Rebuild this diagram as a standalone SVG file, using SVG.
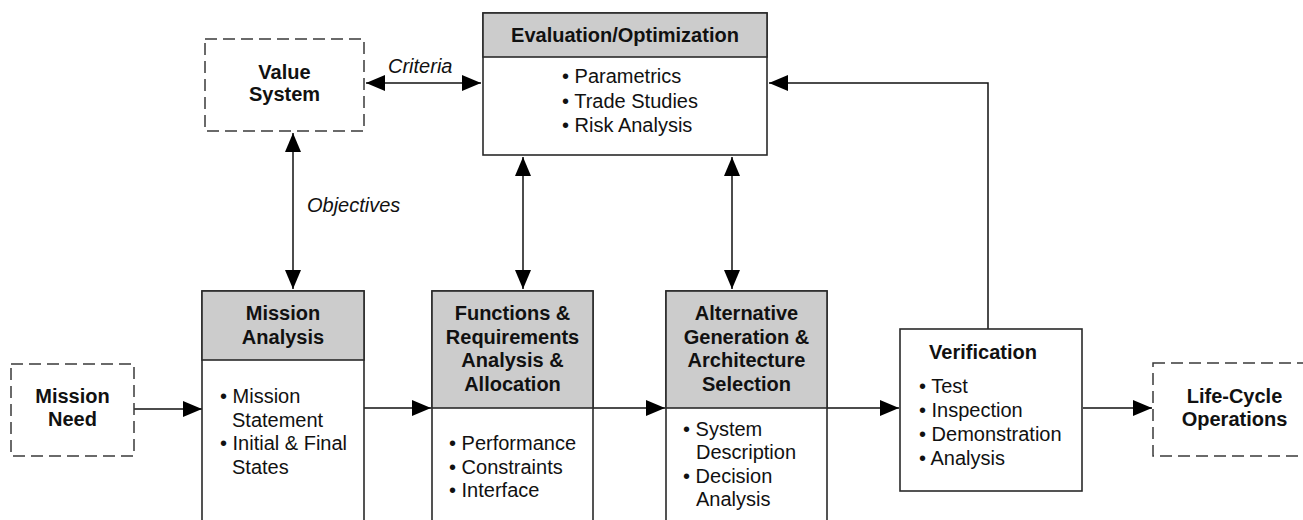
<svg xmlns="http://www.w3.org/2000/svg" width="1303" height="520" viewBox="0 0 1303 520">
  <style>
    text { font-family: "Liberation Sans", Arial, Helvetica, sans-serif; font-size: 20px; fill: #111; }
    .b { font-weight: bold; }
    .i { font-style: italic; }
    .c { text-anchor: middle; }
    .box { fill: #fff; stroke: #2a2a2a; stroke-width: 1.6; }
    .head { fill: #cccccc; stroke: #2a2a2a; stroke-width: 1.6; }
    .dash { fill: #fff; stroke: #3a3a3a; stroke-width: 1.5; stroke-dasharray: 12 6; }
    .conn { fill: none; stroke: #111; stroke-width: 1.5; }
  </style>
  <defs>
    <marker id="arrow" markerUnits="userSpaceOnUse" markerWidth="19" markerHeight="16" refX="19" refY="8" orient="auto-start-reverse">
      <path d="M0,0 L19,8 L0,16 z" fill="#000"/>
    </marker>
  </defs>
  <rect width="1303" height="520" fill="#fff"/>

  <!-- connectors -->
  <g id="connectors">
    <line class="conn" x1="366" y1="83" x2="481" y2="83" marker-start="url(#arrow)" marker-end="url(#arrow)"/>
    <line class="conn" x1="293" y1="133" x2="293" y2="289" marker-start="url(#arrow)" marker-end="url(#arrow)"/>
    <line class="conn" x1="523" y1="157" x2="523" y2="289" marker-start="url(#arrow)" marker-end="url(#arrow)"/>
    <line class="conn" x1="732" y1="157" x2="732" y2="289" marker-start="url(#arrow)" marker-end="url(#arrow)"/>
    <line class="conn" x1="134" y1="409" x2="202" y2="409" marker-end="url(#arrow)"/>
    <line class="conn" x1="364" y1="408" x2="431" y2="408" marker-end="url(#arrow)"/>
    <line class="conn" x1="593" y1="408" x2="665" y2="408" marker-end="url(#arrow)"/>
    <line class="conn" x1="827" y1="408" x2="899" y2="408" marker-end="url(#arrow)"/>
    <line class="conn" x1="1083" y1="408" x2="1152" y2="408" marker-end="url(#arrow)"/>
    <polyline class="conn" points="988,329 988,83 769,83" marker-end="url(#arrow)"/>
    <text class="i" x="388" y="73">Criteria</text>
    <text class="i" x="307" y="212">Objectives</text>
  </g>

  <!-- Value System -->
  <g id="value-system">
    <rect class="dash" x="205" y="39" width="159" height="92"/>
    <text class="b c" x="284.5" y="79">Value</text>
    <text class="b c" x="284.5" y="101">System</text>
  </g>

  <!-- Evaluation/Optimization -->
  <g id="evaluation">
    <rect class="box" x="483" y="13" width="284" height="142"/>
    <rect class="head" x="483" y="13" width="284" height="44"/>
    <text class="b c" x="625" y="42">Evaluation/Optimization</text>
    <text x="562" y="83">• Parametrics</text>
    <text x="562" y="107.5">• Trade Studies</text>
    <text x="562" y="132">• Risk Analysis</text>
  </g>

  <!-- Mission Need -->
  <g id="mission-need">
    <rect class="dash" x="11" y="364" width="123" height="92"/>
    <text class="b c" x="72.5" y="403">Mission</text>
    <text class="b c" x="72.5" y="426">Need</text>
  </g>

  <!-- Mission Analysis -->
  <g id="mission-analysis">
    <rect class="box" x="202" y="291" width="162" height="240"/>
    <rect class="head" x="202" y="291" width="162" height="69"/>
    <text class="b c" x="283" y="320">Mission</text>
    <text class="b c" x="283" y="344">Analysis</text>
    <text x="220" y="403">• Mission</text>
    <text x="232" y="427">Statement</text>
    <text x="220" y="450">• Initial &amp; Final</text>
    <text x="232" y="474">States</text>
  </g>

  <!-- Functions & Requirements Analysis & Allocation -->
  <g id="functions">
    <rect class="box" x="432" y="291" width="161" height="240"/>
    <rect class="head" x="432" y="291" width="161" height="117"/>
    <text class="b c" x="512.5" y="320">Functions &amp;</text>
    <text class="b c" x="512.5" y="344">Requirements</text>
    <text class="b c" x="512.5" y="367">Analysis &amp;</text>
    <text class="b c" x="512.5" y="391">Allocation</text>
    <text x="449" y="450">• Performance</text>
    <text x="449" y="474">• Constraints</text>
    <text x="449" y="497">• Interface</text>
  </g>

  <!-- Alternative Generation & Architecture Selection -->
  <g id="alternative">
    <rect class="box" x="666" y="291" width="161" height="240"/>
    <rect class="head" x="666" y="291" width="161" height="117"/>
    <text class="b c" x="746.5" y="320">Alternative</text>
    <text class="b c" x="746.5" y="344">Generation &amp;</text>
    <text class="b c" x="746.5" y="367">Architecture</text>
    <text class="b c" x="746.5" y="391">Selection</text>
    <text x="683" y="436">• System</text>
    <text x="696" y="459">Description</text>
    <text x="683" y="483">• Decision</text>
    <text x="696" y="506">Analysis</text>
  </g>

  <!-- Verification -->
  <g id="verification">
    <rect class="box" x="900" y="329" width="182" height="162"/>
    <text class="b c" x="983" y="359">Verification</text>
    <text x="919" y="393">• Test</text>
    <text x="919" y="417">• Inspection</text>
    <text x="919" y="441">• Demonstration</text>
    <text x="919" y="465">• Analysis</text>
  </g>

  <!-- Life-Cycle Operations -->
  <g id="life-cycle">
    <rect class="dash" x="1153" y="363" width="170" height="93"/>
    <text class="b c" x="1234.5" y="403">Life-Cycle</text>
    <text class="b c" x="1234.5" y="426">Operations</text>
  </g>
</svg>
